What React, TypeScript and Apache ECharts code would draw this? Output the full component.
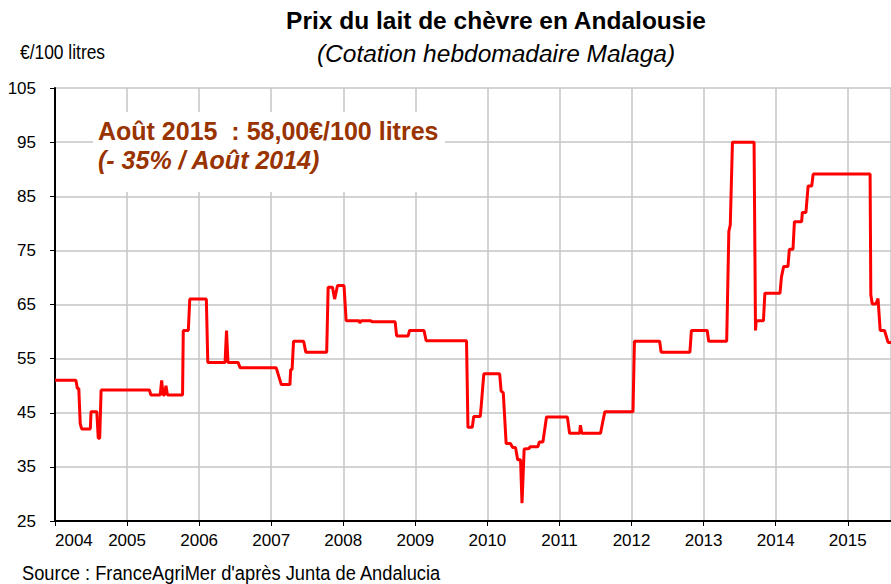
import React, { useEffect, useRef } from "react";
import * as echarts from "echarts";

const titleText = "Prix du lait de chèvre en Andalousie";
const subtitleText = "(Cotation hebdomadaire Malaga)";
const unitText = "€/100 litres";
const sourceText = "Source : FranceAgriMer d'après Junta de Andalucia";
const noteLine1 = "Août 2015  : 58,00€/100 litres";
const noteLine2 = "(- 35% / Août 2014)";

const xMin = 2004;
const xMax = 2015.6;
const yMin = 25;
const yMax = 105;

// decimal year
const years: number[] = [
  2004.0, 2004.29, 2004.31, 2004.33, 2004.35, 2004.37, 2004.49, 2004.5, 2004.58, 2004.6,
  2004.62, 2004.64, 2005.31, 2005.33, 2005.46, 2005.48, 2005.5, 2005.52, 2005.54, 2005.56,
  2005.77, 2005.78, 2005.85, 2005.87, 2006.1, 2006.12, 2006.36, 2006.38, 2006.4, 2006.54,
  2006.57, 2007.07, 2007.14, 2007.26, 2007.27, 2007.29, 2007.31, 2007.45, 2007.48, 2007.77,
  2007.79, 2007.85, 2007.88, 2007.92, 2008.01, 2008.04, 2008.22, 2008.23, 2008.25, 2008.38,
  2008.4, 2008.72, 2008.74, 2008.9, 2008.92, 2009.12, 2009.15, 2009.71, 2009.73, 2009.79,
  2009.81, 2009.9, 2009.91, 2009.95, 2010.17, 2010.19, 2010.22, 2010.26, 2010.32, 2010.35,
  2010.39, 2010.42, 2010.46, 2010.48, 2010.51, 2010.58, 2010.59, 2010.7, 2010.72, 2010.77,
  2010.82, 2011.11, 2011.14, 2011.28, 2011.29, 2011.31, 2011.57, 2011.6, 2011.63, 2012.02,
  2012.04, 2012.39, 2012.41, 2012.81, 2012.83, 2013.05, 2013.07, 2013.32, 2013.35, 2013.37,
  2013.4, 2013.7, 2013.72, 2013.73, 2013.83, 2013.85, 2014.06, 2014.08, 2014.11, 2014.17,
  2014.19, 2014.24, 2014.26, 2014.36, 2014.37, 2014.42, 2014.45, 2014.5, 2014.52, 2015.31,
  2015.32, 2015.34, 2015.39, 2015.42, 2015.45, 2015.51, 2015.56, 2015.6,
];

// €/100 litres
const prices: number[] = [
  51, 51, 49.5, 49.5, 43, 42, 42, 45.2, 45.2, 40.3,
  40.3, 49.2, 49.2, 48.3, 48.3, 51, 48.3, 48.3, 50, 48.3,
  48.3, 60.2, 60.2, 66, 66, 54.3, 54.3, 60.2, 54.3, 54.3,
  53.3, 53.3, 50.2, 50.2, 53, 53, 58.2, 58.2, 56.2, 56.2,
  68.2, 68.2, 66, 68.5, 68.5, 62, 62, 61.6, 62, 62,
  61.8, 61.8, 59.2, 59.2, 60.2, 60.2, 58.3, 58.3, 42.3, 42.3,
  44.3, 44.3, 45.6, 52.2, 52.2, 49, 48.7, 39.3, 39.3, 38.6,
  38.6, 36.3, 36.3, 28.3, 38.3, 38.4, 38.7, 38.7, 39.6, 39.6,
  44.2, 44.2, 41.2, 41.2, 42.7, 41.2, 41.2, 43.3, 45.2, 45.2,
  58.2, 58.2, 56.2, 56.2, 60.2, 60.2, 58.2, 58.2, 78.5, 79.7,
  95, 95, 60.2, 62, 62, 67.1, 67.1, 70.1, 72, 72,
  75.2, 75.2, 80.3, 80.3, 82, 82, 86.9, 86.9, 89.1, 89.1,
  66.8, 65.1, 65.1, 66.1, 60.2, 60.2, 58, 58,
];

const sans = "'Liberation Sans', Arial, sans-serif";
const brown = "#993300";

export default function App() {
  const ref = useRef<HTMLDivElement>(null);
  useEffect(() => {
    document.body.style.margin = "0";
    if (!ref.current) return;
    const chart = echarts.init(ref.current, null, { renderer: "svg" });
    const data = years.map((y, i) => [y, prices[i]]);
    chart.setOption({
      animation: false,
      backgroundColor: "#ffffff",
      grid: { left: 55, right: 0, top: 88, bottom: 63 },
      xAxis: {
        type: "value",
        min: xMin,
        max: xMax,
        interval: 1,
        axisLine: { show: true, lineStyle: { color: "#000", width: 2 } },
        axisTick: { show: true, length: 5, lineStyle: { color: "#000", width: 1 } },
        axisLabel: {
          show: true,
          color: "#000",
          fontSize: 17,
          fontFamily: sans,
          margin: 11,
          showMaxLabel: false,
          alignMinLabel: "left",
          formatter: (v: number) => String(Math.round(v)),
        },
        splitLine: { show: true, lineStyle: { color: "#c4c4c4", width: 1.5 } },
      },
      yAxis: {
        type: "value",
        min: yMin,
        max: yMax,
        interval: 10,
        axisLine: { show: true, lineStyle: { color: "#000", width: 2 } },
        axisTick: { show: true, length: 5, lineStyle: { color: "#000", width: 1 } },
        axisLabel: { color: "#000", fontSize: 17, fontFamily: sans, margin: 19 },
        splitLine: { show: true, lineStyle: { color: "#c4c4c4", width: 1.5 } },
      },
      series: [
        {
          type: "line",
          data,
          showSymbol: false,
          symbol: "none",
          lineStyle: { color: "#ff0000", width: 3 },
          itemStyle: { color: "#ff0000" },
          z: 5,
        },
      ],
      graphic: [
        {
          type: "text",
          x: 496,
          y: 20,
          style: { text: titleText, font: `bold 24.5px ${sans}`, fill: "#000", textAlign: "center", verticalAlign: "middle" },
        },
        {
          type: "text",
          x: 496,
          y: 53,
          style: { text: subtitleText, font: `italic 24.5px ${sans}`, fill: "#000", textAlign: "center", verticalAlign: "middle" },
        },
        {
          type: "text",
          x: 20,
          y: 52,
          scaleX: 0.87,
          style: { text: unitText, font: `20px ${sans}`, fill: "#000", textAlign: "left", verticalAlign: "middle" },
        },
        {
          type: "text",
          x: 22,
          y: 573,
          scaleX: 0.915,
          style: { text: sourceText, font: `20px ${sans}`, fill: "#000", textAlign: "left", verticalAlign: "middle" },
        },
        {
          type: "rect",
          z: 50,
          shape: { x: 93, y: 112, width: 352, height: 80 },
          style: { fill: "#ffffff" },
        },
        {
          type: "text",
          z: 51,
          x: 98,
          y: 131,
          style: { text: noteLine1, font: `bold 25px ${sans}`, fill: brown, textAlign: "left", verticalAlign: "middle" },
        },
        {
          type: "text",
          z: 51,
          x: 98,
          y: 160,
          style: { text: noteLine2, font: `italic bold 25px ${sans}`, fill: brown, textAlign: "left", verticalAlign: "middle" },
        },
      ],
    });
    return () => chart.dispose();
  }, []);
  return <div ref={ref} style={{ width: 891, height: 584 }} />;
}
